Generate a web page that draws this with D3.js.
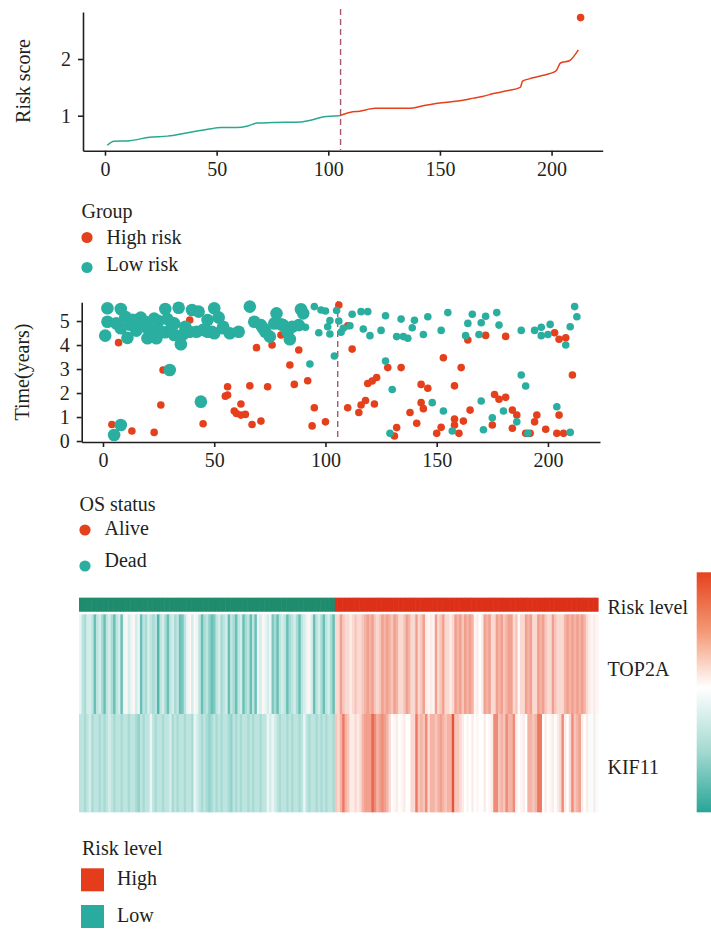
<!DOCTYPE html>
<html><head><meta charset="utf-8">
<script src="https://cdn.jsdelivr.net/npm/d3@7"></script>
<style>
body{margin:0;background:#fff}
svg{display:block}
text{font-family:"Liberation Serif","Times New Roman",serif;fill:#231f20}
</style>
</head><body>
<svg id="c" width="711" height="932"></svg>
<script>
// ---------- DATA ----------
// risk score curve (patients sorted by score): knots
const scoreIdx = [1,4,11,20,28,37,46,52,59,64,68,75,88,92,98,105,110,114,121,128,136,143,149,158,165,169,174,180,186,187,190,195,202,204,208,212];
const scoreVal = [0.48,0.55,0.56,0.62,0.64,0.70,0.76,0.79,0.79,0.82,0.87,0.88,0.89,0.92,0.98,1.00,1.06,1.08,1.13,1.13,1.13,1.18,1.22,1.26,1.31,1.34,1.39,1.44,1.50,1.61,1.65,1.70,1.79,1.93,1.97,2.16];
const outlierIdx = [213];
const outlierVal = [2.73];
const cutoff = 105.5;
const nLow = 105, nHigh = 108;

const scoreXTicks = [0,50,100,150,200];
const scoreYTicks = [1,2];
const timeYTicks = [0,1,2,3,4,5];

// survival scatter
const aliveIdx  = [7,39,27,26,4,13,23,45,69,76,88,84,56,66,74,86,92,55,56,62,59,60,62,64,95,67,71,94,100,80,106,
  110,112,128,134,153,161,119,121,123,143,146,158,110,115,116,118,122,143,144,138,141,132,131,150,152,158,158,160,162,165,164,
  172,181,203,205,208,211,176,178,181,184,186,175,184,194,195,199,205,204,207,190,192];
const aliveTime = [4.1,5.04,2.96,1.5,0.69,0.42,0.36,0.72,3.89,4.0,3.79,3.17,2.26,2.3,2.26,2.36,2.51,1.87,1.92,1.54,1.25,1.15,1.08,1.11,1.39,0.69,0.83,0.63,0.8,4.42,5.67,
  4.8,3.83,3.06,3.06,3.47,3.06,2.4,2.5,2.65,2.36,2.2,2.3,1.39,1.19,1.5,1.69,1.54,1.6,1.35,1.19,0.74,0.56,0.21,0.32,0.57,0.92,0.67,0.32,0.83,1.29,4.21,
  4.4,4.36,4.51,4.24,4.3,2.75,1.94,1.74,1.82,1.29,1.08,0.67,0.53,0.8,1.08,0.49,1.08,0.32,0.32,0.32,0.32];
const deadIdx  = [2,8,2,10,6,1,11,8,14,17,19,16,20,20,24,25,28,29,34,32,28,32,35,37,40,43,39,42,45,47,30,44,8,5,
  50,52,47,50,54,57,61,66,68,71,73,75,78,77,81,83,84,85,89,90,88,49,54,72,80,12,13,22,26,31,36,15,23,
  91,95,98,100,97,102,102,101,93,104,105,106,107,108,112,111,116,119,117,120,125,127,132,135,137,134,140,139,144,146,152,155,163,164,127,130,148,153,129,157,
  166,170,172,169,177,178,188,194,197,197,200,201,210,212,213,208,188,190,170,175,180,186,171,204,210,191];
const deadTime = [5.53,5.5,4.97,5.18,4.9,4.39,4.3,4.7,5.04,5.14,4.97,4.83,4.7,4.28,4.28,5.0,5.5,5.08,5.55,4.9,4.53,4.42,4.03,4.76,5.46,5.39,4.55,4.55,4.63,5.04,2.96,1.64,0.67,0.25,
  5.53,5.15,4.55,4.49,4.76,4.49,4.55,5.6,4.97,4.83,4.55,4.35,5.32,4.9,4.83,4.55,4.24,4.76,5.49,5.32,4.83,4.55,4.7,4.7,4.86,4.85,5.05,4.6,4.55,4.75,4.45,4.6,5.1,
  4.74,5.6,5.46,5.42,4.51,4.46,5.02,4.76,3.21,3.54,5.44,5.0,4.53,4.7,5.28,4.8,5.39,5.39,4.67,4.39,4.61,5.22,4.35,4.35,4.28,5.08,5.03,4.72,4.44,5.18,4.61,5.35,4.39,4.9,3.33,2.15,1.6,1.25,0.32,0.42,
  5.28,4.93,5.2,4.44,5.35,4.83,4.61,4.61,4.74,4.39,4.44,4.86,4.76,5.6,5.18,4.0,2.75,2.29,1.67,0.97,1.25,0.8,0.47,1.43,0.36,0.32];

// heatmap expression (z-scored, sorted by risk score)
const genes = ["TOP2A","KIF11"];
const top2a = [
-.1,-.3,-.4,-.2,-.2,-.3,-.7,-.3,-.2,-.4,
-.7,-.3,-.2,-.4,-.7,-.3,-.2,-.7,-.1,.05,
-.2,-.1,.05,-.2,-.1,-.7,-.3,-.4,-.2,-.3,
-.4,-.3,-.8,-.3,-.2,-.4,-.7,-.3,-.2,-.4,
-.3,-.7,-.6,-.3,-.1,.05,-.2,.05,-.1,-.3,
-.7,-.4,-.3,-.5,-.7,-.6,-.3,-.2,-.4,-.3,
-.2,-.7,-.3,-.4,-.7,-.3,-.2,-.7,-.4,-.3,
-.7,-.3,-.7,-.1,-.2,.05,-.1,-.2,-.1,-.6,
-.4,-.7,-.3,-.2,-.3,-.7,-.4,-.3,-.2,-.4,
-.7,-.3,-.2,-.1,.05,-.2,-.7,-.3,-.2,-.4,
-.7,-.3,-.2,-.4,-.7,
.2,.2,.5,.3,.2,.2,.1,.2,.3,.2,
.2,.3,.4,.5,.4,.5,.3,.2,.3,.5,
.4,.5,.4,.3,.5,.4,.2,.2,.3,.5,
.4,.2,.2,.5,.2,.3,.5,.1,.05,.1,
.05,.5,.2,.3,.5,.2,.2,.1,.2,.5,
.4,.5,.3,.5,.4,.5,.4,.05,.1,0,
.1,.5,.4,.5,.2,.2,.5,.4,.5,.3,
.4,.5,.5,.2,.3,.05,.2,.2,.5,.4,
.5,.2,.2,.5,.4,.5,.3,.2,.2,.5,
.3,.2,.2,.2,.4,.5,.4,.5,.4,.5,
.4,.5,.4,.2,.1,.05,.1,.05];
const kif11 = [
-.3,-.3,-.4,-.3,-.2,-.4,-.3,-.3,-.4,-.3,
-.4,-.3,-.2,-.3,-.4,-.3,-.3,-.4,-.3,-.3,
-.4,-.3,-.3,-.4,-.5,-.3,-.4,-.3,-.3,-.1,
-.3,-.4,-.3,-.3,-.4,-.3,-.3,-.2,-.4,-.3,
-.4,-.3,-.3,-.4,-.3,-.3,-.4,-.1,-.2,-.3,
-.4,-.3,-.4,-.5,-.4,-.3,-.4,-.3,-.4,-.3,
-.3,-.4,-.5,-.3,-.4,-.3,-.4,-.3,-.3,-.4,
-.3,-.4,-.3,-.3,-.4,-.3,-.3,-.1,-.2,-.1,
-.2,-.3,-.4,-.3,-.3,-.4,-.3,-.4,-.3,-.3,
-.4,-.3,-.1,-.3,-.4,-.3,-.3,-.4,-.3,-.4,
-.3,-.4,-.3,-.3,-.4,
.3,.2,.4,.7,.4,.3,.1,.1,.2,.1,
.2,.4,.5,.5,.5,.8,.6,.4,.5,.6,
.5,.4,.2,0,.05,.1,0,.05,.1,0,
0,.2,.2,.7,.3,.4,.3,.6,.2,.4,
.4,.3,.4,.5,.4,.3,.4,.4,.9,.3,
.3,.2,.1,0,.05,0,.1,0,.05,0,
0,.1,0,.05,.1,.6,.6,.3,.4,.3,
.6,.4,.4,.6,.1,0,.05,.1,0,.4,
.4,.3,.4,.7,.7,0,.1,0,.05,.1,
0,.1,.2,.6,.1,0,.2,.6,.3,.4,
.5,.1,0,.1,-.03,-.03,.1,-.03];

// ---------- STYLE ----------
const RED = "#e5401c", TEAL = "#2aae9f", LINEGREEN = "#27a98e";
const DASH = "#a8586c", AX = "#231f20";
const FS = 20;

const svg = d3.select("#c");

function styleAxis(g){
  g.selectAll(".domain").attr("stroke",AX).attr("stroke-width",1.6);
  g.selectAll(".tick line").attr("stroke",AX).attr("stroke-width",1.6);
  g.selectAll(".tick text").attr("font-size",FS).attr("font-family","Liberation Serif").attr("fill",AX);
}
const fmt = d3.format("d");

// ---------- PANEL 1: risk score ----------
const x1 = d3.scaleLinear().domain([-9.85,222.9]).range([83,602.7]);
const y1 = d3.scaleLinear().domain([0.383,2.829]).range([150.7,12]);
const p1 = svg.append("g");
p1.append("g").attr("transform","translate(0,150.7)")
  .call(d3.axisBottom(x1).tickValues(scoreXTicks).tickFormat(fmt).tickSize(5).tickPadding(6).tickSizeOuter(0))
  .call(styleAxis);
p1.append("g").attr("transform","translate(83,0)")
  .call(d3.axisLeft(y1).tickValues(scoreYTicks).tickFormat(fmt).tickSize(5).tickPadding(7).tickSizeOuter(0))
  .call(styleAxis);
const pts = scoreIdx.map((d,i)=>({i:d,v:scoreVal[i]}));
const line1 = d3.line().x(d=>x1(d.i)).y(d=>y1(d.v)).curve(d3.curveMonotoneX);
p1.append("path").datum(pts.filter(d=>d.i<=105)).attr("d",line1)
  .attr("fill","none").attr("stroke",LINEGREEN).attr("stroke-width",1.5);
p1.append("path").datum(pts.filter(d=>d.i>=105)).attr("d",line1)
  .attr("fill","none").attr("stroke",RED).attr("stroke-width",1.5);
p1.selectAll(".out").data(outlierIdx).enter().append("circle")
  .attr("cx",d=>x1(d)).attr("cy",(d,i)=>y1(outlierVal[i])).attr("r",3.8).attr("fill",RED);
p1.append("line").attr("x1",x1(cutoff)).attr("x2",x1(cutoff)).attr("y1",9).attr("y2",150)
  .attr("stroke",DASH).attr("stroke-width",1.4).attr("stroke-dasharray","6,4");
p1.append("text").attr("transform","translate(30,81) rotate(-90)").attr("text-anchor","middle")
  .attr("font-size",FS).text("Risk score");

// legend Group
function dotLegend(title, items, x, yTitle, ys, yText){
  svg.append("text").attr("x",x).attr("y",yTitle).attr("font-size",FS).text(title);
  items.forEach((it,i)=>{
    svg.append("circle").attr("cx",x+5.5).attr("cy",ys[i]).attr("r",5.6).attr("fill",it.c);
    svg.append("text").attr("x",x+25).attr("y",yText[i]).attr("font-size",FS).text(it.t);
  });
}
dotLegend("Group",[{t:"High risk",c:RED},{t:"Low risk",c:TEAL}],81.5,217.5,[237.5,267.5],[243.5,271]);

// ---------- PANEL 2: survival scatter ----------
const x2 = d3.scaleLinear().domain([-9.57,223.4]).range([81.7,600]);
const y2 = d3.scaleLinear().domain([-0.04,5.78]).range([442,302.3]);
const p2 = svg.append("g");
p2.append("g").attr("transform","translate(0,442)")
  .call(d3.axisBottom(x2).tickValues(scoreXTicks).tickFormat(fmt).tickSize(5).tickPadding(6).tickSizeOuter(0))
  .call(styleAxis);
p2.append("g").attr("transform","translate(81.7,0)")
  .call(d3.axisLeft(y2).tickValues(timeYTicks).tickFormat(fmt).tickSize(5).tickPadding(7).tickSizeOuter(0))
  .call(styleAxis);
p2.append("line").attr("x1",x2(cutoff)).attr("x2",x2(cutoff)).attr("y1",301).attr("y2",441)
  .attr("stroke",DASH).attr("stroke-width",1.4).attr("stroke-dasharray","6,4");
const alive = aliveIdx.map((d,i)=>({i:d,t:aliveTime[i]}));
const dead = deadIdx.map((d,i)=>({i:d,t:deadTime[i]}));
p2.selectAll(".a").data(alive).enter().append("circle")
  .attr("cx",d=>x2(d.i)).attr("cy",d=>y2(d.t)).attr("r",3.8).attr("fill",RED);
p2.selectAll(".d").data(dead).enter().append("circle")
  .attr("cx",d=>x2(d.i)).attr("cy",d=>y2(d.t)).attr("r",d=>d.i<=90?6.3:3.8).attr("fill",TEAL);
p2.append("text").attr("transform","translate(29,372) rotate(-90)").attr("text-anchor","middle")
  .attr("font-size",FS).text("Time(years)");

dotLegend("OS status",[{t:"Alive",c:RED},{t:"Dead",c:TEAL}],79.5,510.5,[530,566],[535,566.5]);

// ---------- PANEL 3: heatmap ----------
const n = nLow + nHigh;
const hx = d3.scaleBand().domain(d3.range(n)).range([79,598]).paddingInner(0);
const color = d3.scaleLinear().domain([-1,0,1]).range(["#27a597","#ffffff","#e4401d"]).clamp(true);
const riskLevel = d3.range(n).map(i=> i<nLow ? "Low" : "High");
const hm = svg.append("g");
hm.selectAll(".rl").data(riskLevel).enter().append("rect")
  .attr("x",(d,i)=>hx(i)).attr("width",hx.bandwidth()+0.6).attr("y",597.7).attr("height",14)
  .attr("fill",d=>d==="Low"?"#1f8c6e":"#dc3019");
const rows = [{g:"TOP2A",v:top2a,y0:614.3,y1:714},{g:"KIF11",v:kif11,y0:714,y1:812.3}];
rows.forEach(r=>{
  hm.selectAll(".c"+r.g).data(r.v).enter().append("rect")
    .attr("x",(d,i)=>hx(i)).attr("width",hx.bandwidth()+0.6)
    .attr("y",r.y0).attr("height",r.y1-r.y0).attr("fill",d=>color(d));
});
svg.append("text").attr("x",607.5).attr("y",613.5).attr("font-size",FS).text("Risk level");
svg.append("text").attr("x",607.5).attr("y",676).attr("font-size",FS).text(genes[0]);
svg.append("text").attr("x",607.5).attr("y",773.5).attr("font-size",FS).text(genes[1]);

// colour bar
const defs = svg.append("defs");
const grad = defs.append("linearGradient").attr("id","cb").attr("x1",0).attr("y1",0).attr("x2",0).attr("y2",1);
[[0,"#e6421e"],[0.25,"#f49a76"],[0.48,"#ffffff"],[0.75,"#a2d9d0"],[1,"#27a597"]].forEach(s=>
  grad.append("stop").attr("offset",s[0]).attr("stop-color",s[1]));
svg.append("rect").attr("x",696.7).attr("y",572.3).attr("width",15).attr("height",240).attr("fill","url(#cb)");

// legend risk level
svg.append("text").attr("x",82).attr("y",855).attr("font-size",FS).text("Risk level");
[{t:"High",c:"#e53d1c",y:868.3},{t:"Low",c:"#2aab9f",y:905}].forEach(it=>{
  svg.append("rect").attr("x",81).attr("y",it.y).attr("width",23).attr("height",23).attr("fill",it.c);
  svg.append("text").attr("x",117).attr("y",it.y+17).attr("font-size",FS).text(it.t);
});
</script>
</body></html>
